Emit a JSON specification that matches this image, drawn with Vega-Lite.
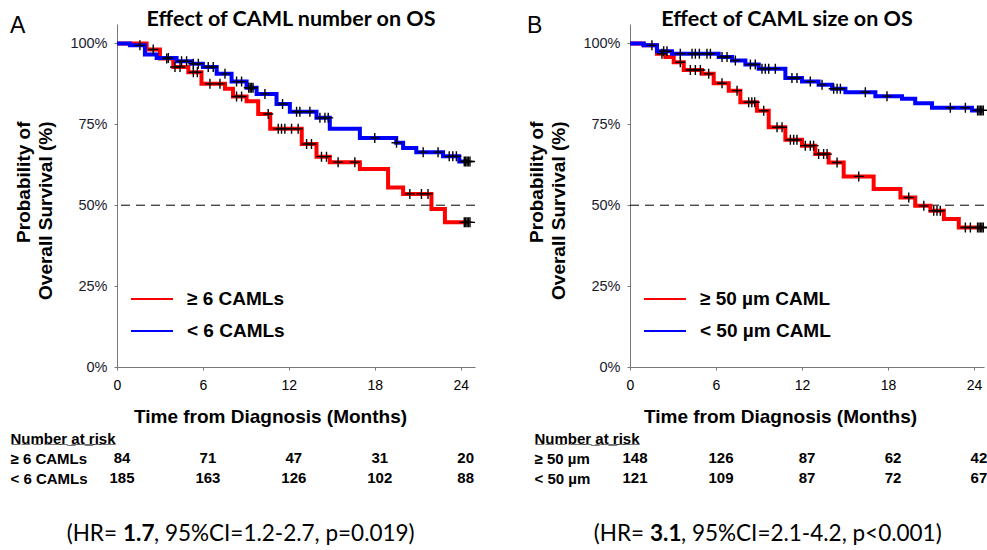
{
  "$schema": "https://vega.github.io/schema/vega-lite/v6.json",
  "background": "white",
  "padding": {"left": 10, "top": 8, "right": 0, "bottom": 0},
  "autosize": {"type": "pad"},
  "config": {"view": {"stroke": null}, "font": "Liberation Sans"},
  "resolve": {"scale": {"color": "independent"}, "legend": {"color": "independent"}},
  "datasets": {
    "curveA": [
      {"group": "≥ 6 CAMLs", "t": 0, "s": 100}, {"group": "≥ 6 CAMLs", "t": 2.07, "s": 98.1}, {"group": "≥ 6 CAMLs", "t": 3.0, "s": 95.3},
      {"group": "≥ 6 CAMLs", "t": 3.93, "s": 92.7}, {"group": "≥ 6 CAMLs", "t": 4.98, "s": 91.1}, {"group": "≥ 6 CAMLs", "t": 5.9, "s": 87.5},
      {"group": "≥ 6 CAMLs", "t": 7.54, "s": 86.0}, {"group": "≥ 6 CAMLs", "t": 8.1, "s": 83.6}, {"group": "≥ 6 CAMLs", "t": 9.05, "s": 82.1},
      {"group": "≥ 6 CAMLs", "t": 9.86, "s": 78.2}, {"group": "≥ 6 CAMLs", "t": 10.7, "s": 73.6}, {"group": "≥ 6 CAMLs", "t": 12.9, "s": 68.9},
      {"group": "≥ 6 CAMLs", "t": 13.93, "s": 65.0}, {"group": "≥ 6 CAMLs", "t": 14.86, "s": 63.3}, {"group": "≥ 6 CAMLs", "t": 16.96, "s": 61.2},
      {"group": "≥ 6 CAMLs", "t": 18.93, "s": 55.5}, {"group": "≥ 6 CAMLs", "t": 19.98, "s": 53.5}, {"group": "≥ 6 CAMLs", "t": 21.96, "s": 48.8},
      {"group": "≥ 6 CAMLs", "t": 22.9, "s": 44.7}, {"group": "≥ 6 CAMLs", "t": 24.6, "s": 44.7},
      {"group": "< 6 CAMLs", "t": 0, "s": 100}, {"group": "< 6 CAMLs", "t": 0.9, "s": 99.4}, {"group": "< 6 CAMLs", "t": 1.95, "s": 96.6},
      {"group": "< 6 CAMLs", "t": 2.77, "s": 95.5}, {"group": "< 6 CAMLs", "t": 4.16, "s": 94.5}, {"group": "< 6 CAMLs", "t": 5.2, "s": 93.7},
      {"group": "< 6 CAMLs", "t": 6.0, "s": 92.7}, {"group": "< 6 CAMLs", "t": 6.96, "s": 90.6}, {"group": "< 6 CAMLs", "t": 8.0, "s": 88.2},
      {"group": "< 6 CAMLs", "t": 9.05, "s": 86.3}, {"group": "< 6 CAMLs", "t": 9.75, "s": 84.4}, {"group": "< 6 CAMLs", "t": 11.14, "s": 81.3},
      {"group": "< 6 CAMLs", "t": 12.07, "s": 78.9}, {"group": "< 6 CAMLs", "t": 13.93, "s": 77.0}, {"group": "< 6 CAMLs", "t": 14.86, "s": 73.6},
      {"group": "< 6 CAMLs", "t": 16.96, "s": 70.8}, {"group": "< 6 CAMLs", "t": 19.5, "s": 69.3}, {"group": "< 6 CAMLs", "t": 19.98, "s": 67.7},
      {"group": "< 6 CAMLs", "t": 20.9, "s": 66.4}, {"group": "< 6 CAMLs", "t": 22.77, "s": 65.1}, {"group": "< 6 CAMLs", "t": 23.9, "s": 63.5},
      {"group": "< 6 CAMLs", "t": 24.6, "s": 63.5}
    ],
    "censA": [
      {"t": 2.53, "s": 98.1}, {"t": 3.47, "s": 95.3}, {"t": 4.05, "s": 92.7}, {"t": 4.4, "s": 92.7}, {"t": 5.33, "s": 91.1}, {"t": 5.61, "s": 91.1},
      {"t": 6.49, "s": 87.5}, {"t": 7.19, "s": 87.5}, {"t": 8.35, "s": 83.6}, {"t": 8.7, "s": 83.6}, {"t": 10.56, "s": 78.2}, {"t": 11.26, "s": 73.6},
      {"t": 11.49, "s": 73.6}, {"t": 11.72, "s": 73.6}, {"t": 12.19, "s": 73.6}, {"t": 12.65, "s": 73.6}, {"t": 13.24, "s": 68.9}, {"t": 13.58, "s": 68.9},
      {"t": 14.28, "s": 65.0}, {"t": 14.63, "s": 65.0}, {"t": 15.44, "s": 63.3}, {"t": 16.61, "s": 63.3}, {"t": 20.45, "s": 53.5}, {"t": 21.26, "s": 53.5},
      {"t": 21.72, "s": 53.5}, {"t": 24.25, "s": 44.7}, {"t": 24.35, "s": 44.7}, {"t": 24.45, "s": 44.7}, {"t": 24.55, "s": 44.7}, {"t": 24.65, "s": 44.7},
      {"t": 1.6, "s": 99.4}, {"t": 3.58, "s": 95.5}, {"t": 4.51, "s": 94.5}, {"t": 4.86, "s": 94.5}, {"t": 5.33, "s": 93.7}, {"t": 5.68, "s": 93.7},
      {"t": 6.37, "s": 92.7}, {"t": 6.72, "s": 92.7}, {"t": 7.54, "s": 90.6}, {"t": 8.35, "s": 88.2}, {"t": 8.7, "s": 88.2}, {"t": 9.2, "s": 86.3},
      {"t": 9.3, "s": 86.3}, {"t": 9.4, "s": 86.3}, {"t": 9.5, "s": 86.3}, {"t": 10.33, "s": 84.4}, {"t": 11.56, "s": 81.3}, {"t": 12.54, "s": 78.9},
      {"t": 12.77, "s": 78.9}, {"t": 13.47, "s": 78.9}, {"t": 14.17, "s": 77.0}, {"t": 14.52, "s": 77.0}, {"t": 14.75, "s": 77.0}, {"t": 18.0, "s": 70.8},
      {"t": 19.52, "s": 69.3}, {"t": 21.38, "s": 66.4}, {"t": 22.42, "s": 66.4}, {"t": 23.2, "s": 65.1}, {"t": 23.45, "s": 65.1}, {"t": 23.7, "s": 65.1},
      {"t": 24.25, "s": 63.5}, {"t": 24.35, "s": 63.5}, {"t": 24.45, "s": 63.5}, {"t": 24.55, "s": 63.5}, {"t": 24.65, "s": 63.5}
    ],
    "curveB": [
      {"group": "≥ 50 µm CAML", "t": 0, "s": 100}, {"group": "≥ 50 µm CAML", "t": 0.95, "s": 99.4}, {"group": "≥ 50 µm CAML", "t": 1.88, "s": 96.8},
      {"group": "≥ 50 µm CAML", "t": 2.47, "s": 95.8}, {"group": "≥ 50 µm CAML", "t": 3.05, "s": 94.2}, {"group": "≥ 50 µm CAML", "t": 3.75, "s": 91.8},
      {"group": "≥ 50 µm CAML", "t": 5.02, "s": 90.6}, {"group": "≥ 50 µm CAML", "t": 5.84, "s": 87.7}, {"group": "≥ 50 µm CAML", "t": 6.89, "s": 85.4},
      {"group": "≥ 50 µm CAML", "t": 7.7, "s": 81.8}, {"group": "≥ 50 µm CAML", "t": 8.86, "s": 79.2}, {"group": "≥ 50 µm CAML", "t": 9.68, "s": 74.1},
      {"group": "≥ 50 µm CAML", "t": 10.84, "s": 70.2}, {"group": "≥ 50 µm CAML", "t": 12.0, "s": 68.4}, {"group": "≥ 50 µm CAML", "t": 12.93, "s": 65.8},
      {"group": "≥ 50 µm CAML", "t": 13.86, "s": 63.2}, {"group": "≥ 50 µm CAML", "t": 14.91, "s": 58.9}, {"group": "≥ 50 µm CAML", "t": 17.0, "s": 55.0},
      {"group": "≥ 50 µm CAML", "t": 18.87, "s": 52.4}, {"group": "≥ 50 µm CAML", "t": 19.9, "s": 49.8}, {"group": "≥ 50 µm CAML", "t": 20.96, "s": 48.3},
      {"group": "≥ 50 µm CAML", "t": 21.9, "s": 45.7}, {"group": "≥ 50 µm CAML", "t": 22.94, "s": 43.1}, {"group": "≥ 50 µm CAML", "t": 24.6, "s": 43.1},
      {"group": "< 50 µm CAML", "t": 0, "s": 100}, {"group": "< 50 µm CAML", "t": 0.95, "s": 99.4}, {"group": "< 50 µm CAML", "t": 1.88, "s": 97.6},
      {"group": "< 50 µm CAML", "t": 2.93, "s": 96.8}, {"group": "< 50 µm CAML", "t": 6.19, "s": 95.8}, {"group": "< 50 µm CAML", "t": 7.12, "s": 94.7},
      {"group": "< 50 µm CAML", "t": 8.05, "s": 93.5}, {"group": "< 50 µm CAML", "t": 8.98, "s": 92.2}, {"group": "< 50 µm CAML", "t": 10.84, "s": 89.3},
      {"group": "< 50 µm CAML", "t": 12.0, "s": 88.2}, {"group": "< 50 µm CAML", "t": 13.16, "s": 87.2}, {"group": "< 50 µm CAML", "t": 14.1, "s": 86.0},
      {"group": "< 50 µm CAML", "t": 15.03, "s": 84.9}, {"group": "< 50 µm CAML", "t": 17.12, "s": 83.7}, {"group": "< 50 µm CAML", "t": 18.98, "s": 82.9},
      {"group": "< 50 µm CAML", "t": 19.9, "s": 81.5}, {"group": "< 50 µm CAML", "t": 21.07, "s": 80.1}, {"group": "< 50 µm CAML", "t": 23.86, "s": 79.3},
      {"group": "< 50 µm CAML", "t": 24.6, "s": 79.3}
    ],
    "censB": [
      {"t": 2.23, "s": 96.8}, {"t": 3.51, "s": 94.2}, {"t": 4.21, "s": 91.8}, {"t": 4.56, "s": 91.8}, {"t": 4.91, "s": 91.8}, {"t": 5.49, "s": 90.6},
      {"t": 6.42, "s": 87.7}, {"t": 7.47, "s": 85.4}, {"t": 8.28, "s": 81.8}, {"t": 8.5, "s": 81.8}, {"t": 8.7, "s": 81.8}, {"t": 9.33, "s": 79.2},
      {"t": 10.26, "s": 74.1}, {"t": 10.61, "s": 74.1}, {"t": 11.19, "s": 70.2}, {"t": 11.42, "s": 70.2}, {"t": 11.65, "s": 70.2}, {"t": 12.23, "s": 68.4},
      {"t": 12.58, "s": 68.4}, {"t": 12.81, "s": 68.4}, {"t": 13.16, "s": 65.8}, {"t": 13.51, "s": 65.8}, {"t": 13.75, "s": 65.8}, {"t": 14.45, "s": 63.2},
      {"t": 15.96, "s": 58.9}, {"t": 19.45, "s": 52.4}, {"t": 20.5, "s": 49.8}, {"t": 21.19, "s": 48.3}, {"t": 21.42, "s": 48.3}, {"t": 21.65, "s": 48.3},
      {"t": 23.4, "s": 43.1}, {"t": 23.75, "s": 43.1}, {"t": 24.25, "s": 43.1}, {"t": 24.35, "s": 43.1}, {"t": 24.45, "s": 43.1}, {"t": 24.55, "s": 43.1},
      {"t": 24.65, "s": 43.1},
      {"t": 1.53, "s": 99.4}, {"t": 2.35, "s": 97.6}, {"t": 2.58, "s": 97.6}, {"t": 3.51, "s": 96.8}, {"t": 4.33, "s": 96.8}, {"t": 4.56, "s": 96.8},
      {"t": 4.84, "s": 96.8}, {"t": 5.37, "s": 96.8}, {"t": 5.61, "s": 96.8}, {"t": 6.42, "s": 95.8}, {"t": 6.77, "s": 95.8}, {"t": 7.35, "s": 94.7},
      {"t": 8.4, "s": 93.5}, {"t": 8.74, "s": 93.5}, {"t": 9.21, "s": 92.2}, {"t": 9.44, "s": 92.2}, {"t": 9.68, "s": 92.2}, {"t": 10.14, "s": 92.2},
      {"t": 11.3, "s": 89.3}, {"t": 11.65, "s": 89.3}, {"t": 12.58, "s": 88.2}, {"t": 13.4, "s": 87.2}, {"t": 14.21, "s": 86.0}, {"t": 14.45, "s": 86.0},
      {"t": 14.68, "s": 86.0}, {"t": 16.42, "s": 84.9}, {"t": 17.93, "s": 83.7}, {"t": 22.35, "s": 80.1}, {"t": 23.4, "s": 80.1},
      {"t": 24.25, "s": 79.3}, {"t": 24.35, "s": 79.3}, {"t": 24.45, "s": 79.3}, {"t": 24.55, "s": 79.3}, {"t": 24.65, "s": 79.3}
    ],
    "ref": [{"level": 50}],
    "riskA": [
      {"row": "≥ 6 CAMLs", "t": 0, "n": 84}, {"row": "≥ 6 CAMLs", "t": 6, "n": 71}, {"row": "≥ 6 CAMLs", "t": 12, "n": 47},
      {"row": "≥ 6 CAMLs", "t": 18, "n": 31}, {"row": "≥ 6 CAMLs", "t": 24, "n": 20},
      {"row": "< 6 CAMLs", "t": 0, "n": 185}, {"row": "< 6 CAMLs", "t": 6, "n": 163}, {"row": "< 6 CAMLs", "t": 12, "n": 126},
      {"row": "< 6 CAMLs", "t": 18, "n": 102}, {"row": "< 6 CAMLs", "t": 24, "n": 88}
    ],
    "riskB": [
      {"row": "≥ 50 µm", "t": 0, "n": 148}, {"row": "≥ 50 µm", "t": 6, "n": 126}, {"row": "≥ 50 µm", "t": 12, "n": 87},
      {"row": "≥ 50 µm", "t": 18, "n": 62}, {"row": "≥ 50 µm", "t": 24, "n": 42},
      {"row": "< 50 µm", "t": 0, "n": 121}, {"row": "< 50 µm", "t": 6, "n": 109}, {"row": "< 50 µm", "t": 12, "n": 87},
      {"row": "< 50 µm", "t": 18, "n": 72}, {"row": "< 50 µm", "t": 24, "n": 67}
    ],
    "hrA": [{"part": "pre", "label": "(HR="}, {"part": "hr", "label": "1.7"}, {"part": "post", "label": ", 95%CI=1.2-2.7, p=0.019)"}],
    "hrB": [{"part": "pre", "label": "(HR="}, {"part": "hr", "label": "3.1"}, {"part": "post", "label": ", 95%CI=2.1-4.2, p<0.001)"}]
  },
  "hconcat": [
    {
      "title": {"text": "A", "anchor": "start", "frame": "bounds", "font": "Liberation Sans", "fontSize": 23, "fontWeight": "normal", "color": "black", "offset": 0, "dy": 29},
      "bounds": "flush",
      "spacing": 46,
      "vconcat": [
        {
          "width": 358, "height": 343,
          "title": {"text": "Effect of CAML number on OS", "font": "Lato", "fontSize": 21.5, "fontWeight": "bold", "color": "black", "offset": -6, "dx": -5},
          "layer": [
            {"data": {"name": "ref"}, "mark": {"type": "rule", "color": "black", "strokeWidth": 1, "strokeDash": [9, 6]},
             "encoding": {"y": {"field": "level", "type": "quantitative"}}},
            {"data": {"name": "curveA"},
             "mark": {"type": "line", "interpolate": "step-after", "strokeWidth": 4},
             "encoding": {
               "x": {"field": "t", "type": "quantitative", "scale": {"domain": [0, 25], "nice": false},
                     "axis": {"values": [0, 6, 12, 18, 24], "grid": false, "title": "Time from Diagnosis (Months)", "domainColor": "#777", "tickColor": "#777", "tickSize": 3,
                              "labelFont": "Liberation Sans", "labelFontSize": 14, "labelColor": "black", "labelPadding": 8, "labelFlush": false,
                              "titleFont": "Liberation Sans", "titleFontSize": 19, "titleFontWeight": "bold", "titleColor": "black", "titlePadding": 15, "titleX": 153}},
               "y": {"field": "s", "type": "quantitative", "scale": {"domain": [0, 106], "nice": false},
                     "axis": {"values": [0, 25, 50, 75, 100], "labelExpr": "datum.value + '%'", "grid": false, "domainColor": "#777", "tickColor": "#777", "tickSize": 3,
                              "labelFont": "Liberation Sans", "labelFontSize": 14.5, "labelColor": "#1a1a2e", "labelPadding": 7,
                              "title": ["Probability of", "Overall  Survival (%)"], "titleFont": "Liberation Sans", "titleFontSize": 19, "titleFontWeight": "bold", "titleColor": "black",
                              "titleLineHeight": 22, "titleAngle": -90, "titleAnchor": "end", "titleAlign": "right", "titleBaseline": "bottom", "titleX": -84, "titleY": 97}},
               "color": {"field": "group", "type": "nominal",
                         "scale": {"domain": ["≥ 6 CAMLs", "< 6 CAMLs"], "range": ["#ff0000", "#0000ff"]},
                         "legend": {"orient": "none", "legendX": 13, "legendY": 253, "title": null, "symbolType": "stroke", "symbolSize": 1764, "symbolStrokeWidth": 2,
                                    "labelFont": "Liberation Sans", "labelFontSize": 19, "labelFontWeight": "bold", "labelColor": "black", "rowPadding": -12, "labelOffset": 13,
                                    "encode": {"symbols": {"update": {"stroke": [{"test": "datum.index === 1", "value": "#14144a"}, {"value": "#ff0000"}]}}}}}
             }},
            {"data": {"name": "censA"},
             "mark": {"type": "point", "shape": "M-1,0H1M0,-1V1", "size": 100, "filled": false, "color": "black", "strokeWidth": 1.4, "opacity": 1},
             "encoding": {"x": {"field": "t", "type": "quantitative"}, "y": {"field": "s", "type": "quantitative"}}}
          ]
        },
        {
          "width": 358, "height": 65,
          "data": {"name": "riskA"},
          "mark": {"type": "text", "font": "Liberation Sans", "fontSize": 15, "fontWeight": "bold", "color": "black", "dx": 5},
          "encoding": {
            "x": {"field": "t", "type": "quantitative", "scale": {"domain": [0, 25], "nice": false}, "axis": null},
            "y": {"field": "row", "type": "ordinal", "scale": {"type": "point", "domain": ["N̲u̲m̲b̲e̲r̲ ̲a̲t̲ ̲r̲i̲s̲k̲", "≥ 6 CAMLs", "< 6 CAMLs"], "range": [25, 65], "padding": 0},
                  "axis": {"title": null, "domain": false, "ticks": false, "labelAlign": "left", "labelPadding": 107, "labelFont": "Liberation Sans", "labelFontSize": 15, "labelFontWeight": "bold", "labelColor": "black"}},
            "text": {"field": "n"}
          }
        },
        {
          "width": 358, "height": 20,
          "data": {"name": "hrA"},
          "layer": [
            {"transform": [{"filter": "datum.part === 'pre'"}], "mark": {"type": "text", "font": "Lato", "fontSize": 22.5, "align": "right", "dx": -6, "color": "black"},
             "encoding": {"x": {"datum": 0.42, "type": "quantitative", "scale": {"domain": [0, 25], "nice": false}, "axis": null}, "text": {"field": "label"}}},
            {"transform": [{"filter": "datum.part === 'hr'"}], "mark": {"type": "text", "font": "Lato", "fontSize": 22.5, "fontWeight": "bold", "align": "left", "color": "black"},
             "encoding": {"x": {"datum": 0.42, "type": "quantitative"}, "text": {"field": "label"}}},
            {"transform": [{"filter": "datum.part === 'post'"}], "mark": {"type": "text", "font": "Lato", "fontSize": 22.5, "align": "left", "dx": 31, "color": "black"},
             "encoding": {"x": {"datum": 0.42, "type": "quantitative"}, "text": {"field": "label"}}}
          ]
        }
      ]
    },
    {
      "title": {"text": "B", "anchor": "start", "frame": "bounds", "font": "Liberation Sans", "fontSize": 23, "fontWeight": "normal", "color": "black", "offset": 0, "dy": 29},
      "bounds": "flush",
      "spacing": 46,
      "vconcat": [
        {
          "width": 354, "height": 343,
          "title": {"text": "Effect of  CAML size on OS", "font": "Lato", "fontSize": 21.5, "fontWeight": "bold", "color": "black", "offset": -6, "dx": -20},
          "layer": [
            {"data": {"name": "ref"}, "mark": {"type": "rule", "color": "black", "strokeWidth": 1, "strokeDash": [9, 6]},
             "encoding": {"y": {"field": "level", "type": "quantitative"}}},
            {"data": {"name": "curveB"},
             "mark": {"type": "line", "interpolate": "step-after", "strokeWidth": 4},
             "encoding": {
               "x": {"field": "t", "type": "quantitative", "scale": {"domain": [0, 24.7], "nice": false},
                     "axis": {"values": [0, 6, 12, 18, 24], "grid": false, "title": "Time from Diagnosis (Months)", "domainColor": "#777", "tickColor": "#777", "tickSize": 3,
                              "labelFont": "Liberation Sans", "labelFontSize": 14, "labelColor": "black", "labelPadding": 8, "labelFlush": false,
                              "titleFont": "Liberation Sans", "titleFontSize": 19, "titleFontWeight": "bold", "titleColor": "black", "titlePadding": 15, "titleX": 150}},
               "y": {"field": "s", "type": "quantitative", "scale": {"domain": [0, 106], "nice": false},
                     "axis": {"values": [0, 25, 50, 75, 100], "labelExpr": "datum.value + '%'", "grid": false, "domainColor": "#777", "tickColor": "#777", "tickSize": 3,
                              "labelFont": "Liberation Sans", "labelFontSize": 14.5, "labelColor": "#1a1a2e", "labelPadding": 7,
                              "title": ["Probability of", "Overall  Survival (%)"], "titleFont": "Liberation Sans", "titleFontSize": 19, "titleFontWeight": "bold", "titleColor": "black",
                              "titleLineHeight": 22, "titleAngle": -90, "titleAnchor": "end", "titleAlign": "right", "titleBaseline": "bottom", "titleX": -84, "titleY": 97}},
               "color": {"field": "group", "type": "nominal",
                         "scale": {"domain": ["≥ 50 µm CAML", "< 50 µm CAML"], "range": ["#ff0000", "#0000ff"]},
                         "legend": {"orient": "none", "legendX": 13, "legendY": 253, "title": null, "symbolType": "stroke", "symbolSize": 1764, "symbolStrokeWidth": 2,
                                    "labelFont": "Liberation Sans", "labelFontSize": 19, "labelFontWeight": "bold", "labelColor": "black", "rowPadding": -12, "labelOffset": 13,
                                    "encode": {"symbols": {"update": {"stroke": [{"test": "datum.index === 1", "value": "#14144a"}, {"value": "#ff0000"}]}}}}}
             }},
            {"data": {"name": "censB"},
             "mark": {"type": "point", "shape": "M-1,0H1M0,-1V1", "size": 100, "filled": false, "color": "black", "strokeWidth": 1.4, "opacity": 1},
             "encoding": {"x": {"field": "t", "type": "quantitative"}, "y": {"field": "s", "type": "quantitative"}}}
          ]
        },
        {
          "width": 354, "height": 65,
          "data": {"name": "riskB"},
          "mark": {"type": "text", "font": "Liberation Sans", "fontSize": 15, "fontWeight": "bold", "color": "black", "dx": 5},
          "encoding": {
            "x": {"field": "t", "type": "quantitative", "scale": {"domain": [0, 24.7], "nice": false}, "axis": null},
            "y": {"field": "row", "type": "ordinal", "scale": {"type": "point", "domain": ["N̲u̲m̲b̲e̲r̲ ̲a̲t̲ ̲r̲i̲s̲k̲", "≥ 50 µm", "< 50 µm"], "range": [25, 65], "padding": 0},
                  "axis": {"title": null, "domain": false, "ticks": false, "labelAlign": "left", "labelPadding": 96, "labelFont": "Liberation Sans", "labelFontSize": 15, "labelFontWeight": "bold", "labelColor": "black"}},
            "text": {"field": "n"}
          }
        },
        {
          "width": 354, "height": 20,
          "data": {"name": "hrB"},
          "layer": [
            {"transform": [{"filter": "datum.part === 'pre'"}], "mark": {"type": "text", "font": "Lato", "fontSize": 22.5, "align": "right", "dx": -6, "color": "black"},
             "encoding": {"x": {"datum": 1.4, "type": "quantitative", "scale": {"domain": [0, 24.7], "nice": false}, "axis": null}, "text": {"field": "label"}}},
            {"transform": [{"filter": "datum.part === 'hr'"}], "mark": {"type": "text", "font": "Lato", "fontSize": 22.5, "fontWeight": "bold", "align": "left", "color": "black"},
             "encoding": {"x": {"datum": 1.4, "type": "quantitative"}, "text": {"field": "label"}}},
            {"transform": [{"filter": "datum.part === 'post'"}], "mark": {"type": "text", "font": "Lato", "fontSize": 22.5, "align": "left", "dx": 31, "color": "black"},
             "encoding": {"x": {"datum": 1.4, "type": "quantitative"}, "text": {"field": "label"}}}
          ]
        }
      ]
    }
  ],
  "spacing": 48
}
